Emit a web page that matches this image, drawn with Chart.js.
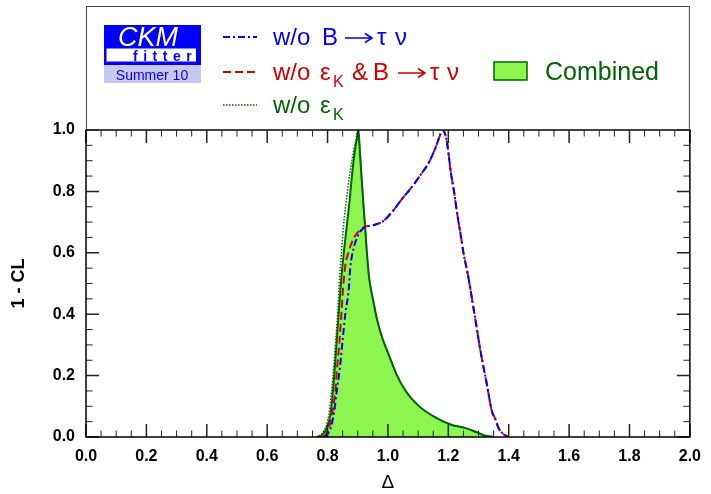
<!DOCTYPE html>
<html>
<head>
<meta charset="utf-8">
<script src="https://cdn.jsdelivr.net/npm/chart.js@4.4.0/dist/chart.umd.min.js"></script>
<style>
html, body { margin: 0; padding: 0; background: #fff; }
#wrap { width: 711px; height: 494px; }
</style>
</head>
<body>
<div id="wrap"><canvas id="ckmChart" width="711" height="494"></canvas></div>
<script>
// values (Delta vs 1 - CL)
var xMajor = [0.0, 0.2, 0.4, 0.6, 0.8, 1.0, 1.2, 1.4, 1.6, 1.8, 2.0];
var yMajor = [0.0, 0.2, 0.4, 0.6, 0.8, 1.0];

var deltaCombined = [0.766, 0.782, 0.799, 0.810, 0.821, 0.829, 0.837, 0.845, 0.856, 0.864, 0.873, 0.881, 0.890, 0.896, 0.902, 0.906, 0.911, 0.918, 0.924, 0.930, 0.937, 0.944, 0.951, 0.960, 0.970, 0.984, 0.998, 1.028, 1.060, 1.100, 1.160, 1.210, 1.257, 1.290, 1.320, 1.350];
var clCombined    = [0.000, 0.007, 0.034, 0.077, 0.186, 0.294, 0.403, 0.510, 0.620, 0.690, 0.770, 0.853, 0.930, 0.965, 1.000, 0.950, 0.870, 0.770, 0.690, 0.605, 0.525, 0.480, 0.446, 0.400, 0.360, 0.315, 0.280, 0.205, 0.148, 0.103, 0.062, 0.040, 0.029, 0.017, 0.005, 0.000];

var deltaNoEpsK = [0.762, 0.780, 0.797, 0.807, 0.818, 0.826, 0.834, 0.839, 0.846, 0.853, 0.862, 0.873, 0.882, 0.892, 0.902, 0.906, 0.911, 0.918, 0.924, 0.930, 0.937, 0.944, 0.951, 0.960, 0.970, 0.984, 0.998, 1.028, 1.060, 1.100, 1.160, 1.210, 1.257, 1.290, 1.320, 1.350];
var clNoEpsK    = [0.000, 0.010, 0.040, 0.090, 0.200, 0.300, 0.410, 0.506, 0.600, 0.690, 0.770, 0.853, 0.908, 0.960, 1.000, 0.950, 0.870, 0.770, 0.690, 0.605, 0.525, 0.480, 0.446, 0.400, 0.360, 0.315, 0.280, 0.205, 0.148, 0.103, 0.062, 0.040, 0.029, 0.017, 0.005, 0.000];

var deltaNoBoth = [0.785, 0.795, 0.804, 0.815, 0.826, 0.831, 0.839, 0.846, 0.851, 0.859, 0.870, 0.886, 0.897, 0.910, 0.924, 0.951, 0.984, 1.017, 1.050, 1.071, 1.104, 1.137, 1.159, 1.173, 1.181, 1.190, 1.197, 1.208, 1.219, 1.230, 1.241, 1.251, 1.263, 1.270, 1.280, 1.290, 1.306, 1.316, 1.328, 1.344, 1.355, 1.366, 1.382, 1.400];
var clNoBoth    = [0.000, 0.010, 0.028, 0.077, 0.153, 0.218, 0.305, 0.403, 0.479, 0.560, 0.604, 0.647, 0.663, 0.676, 0.685, 0.690, 0.703, 0.737, 0.780, 0.804, 0.848, 0.897, 0.946, 0.984, 1.000, 0.985, 0.951, 0.864, 0.799, 0.723, 0.658, 0.595, 0.538, 0.500, 0.440, 0.380, 0.283, 0.230, 0.170, 0.085, 0.060, 0.030, 0.010, 0.000];

var deltaNoBtau = [0.790, 0.800, 0.810, 0.821, 0.831, 0.840, 0.850, 0.859, 0.870, 0.875, 0.886, 0.898, 0.908, 0.924, 0.951, 0.984, 1.017, 1.050, 1.071, 1.104, 1.137, 1.159, 1.173, 1.181, 1.190, 1.197, 1.208, 1.219, 1.230, 1.241, 1.251, 1.263, 1.270, 1.280, 1.290, 1.306, 1.316, 1.328, 1.344, 1.355, 1.366, 1.382, 1.400];
var clNoBtau    = [0.000, 0.010, 0.028, 0.077, 0.153, 0.218, 0.316, 0.403, 0.479, 0.549, 0.614, 0.650, 0.669, 0.683, 0.690, 0.703, 0.737, 0.780, 0.804, 0.848, 0.897, 0.946, 0.984, 1.000, 0.985, 0.951, 0.864, 0.799, 0.723, 0.658, 0.595, 0.538, 0.500, 0.440, 0.380, 0.283, 0.230, 0.170, 0.085, 0.060, 0.030, 0.010, 0.000];

var FONT = '"Liberation Sans", Arial, Helvetica, sans-serif';
var BLUE = '#0000ff', RED = '#d40000', GREEN = '#006400', FILL = 'rgb(140,245,80)';

function pts(xs, ys) {
	var out = [];
	for(var i = 0; i < xs.length; i++) {
		out.push({ x: xs[i], y: ys[i] });
	}
	return out;
}

function txt(ctx, s, x, y, size, color, style) {
	ctx.font = (style || '') + ' ' + size + 'px ' + FONT;
	ctx.fillStyle = color;
	ctx.fillText(s, x, y);
}

// long latex-style arrow, drawn as strokes
function arrow(ctx, x0, x1, y, color) {
	ctx.save();
	ctx.strokeStyle = color;
	ctx.lineWidth = 1.6;
	ctx.beginPath();
	ctx.moveTo(x0, y);
	ctx.lineTo(x1, y);
	ctx.moveTo(x1 - 7, y - 4.5);
	ctx.lineTo(x1, y);
	ctx.lineTo(x1 - 7, y + 4.5);
	ctx.stroke();
	ctx.restore();
}

function sample(ctx, y, color, dash, width) {
	ctx.save();
	ctx.strokeStyle = color;
	ctx.lineWidth = width;
	ctx.setLineDash(dash);
	ctx.beginPath();
	ctx.moveTo(223, y);
	ctx.lineTo(257, y);
	ctx.stroke();
	ctx.restore();
}

var framePlugin = {
	id: 'framePlugin',
	afterDatasetsDraw: function(chart) {
		var ctx = chart.ctx, a = chart.chartArea;
		var x = chart.scales.x, y = chart.scales.y;
		ctx.save();
		ctx.strokeStyle = '#222';
		for(var i = 0; i <= 40; i++) {
			var px = x.getPixelForValue(i * 0.05);
			var len = (i % 4 === 0) ? 13 : 6.5;
			ctx.lineWidth = (i % 4 === 0) ? 1.5 : 1;
			ctx.beginPath();
			ctx.moveTo(px, a.bottom); ctx.lineTo(px, a.bottom - len);
			ctx.moveTo(px, a.top); ctx.lineTo(px, a.top + len);
			ctx.stroke();
		}
		for(var j = 0; j <= 20; j++) {
			var py = y.getPixelForValue(j * 0.05);
			var l = (j % 4 === 0) ? 13 : 6.5;
			ctx.lineWidth = (j % 4 === 0) ? 1.5 : 1;
			ctx.beginPath();
			ctx.moveTo(a.left, py); ctx.lineTo(a.left + l, py);
			ctx.moveTo(a.right, py); ctx.lineTo(a.right - l, py);
			ctx.stroke();
		}
		ctx.lineWidth = 1.5;
		ctx.strokeStyle = '#000';
		ctx.strokeRect(a.left, a.top, a.right - a.left, a.bottom - a.top);
		ctx.restore();
	},
	afterDraw: function(chart) {
		var ctx = chart.ctx, a = chart.chartArea;
		ctx.save();
		// legend frame
		ctx.strokeStyle = '#444';
		ctx.lineWidth = 1;
		ctx.strokeRect(a.left + 0.5, 6.5, a.right - a.left - 1, a.top - 6.5);

		// CKMfitter logo
		ctx.fillStyle = BLUE;
		ctx.fillRect(104, 25, 97, 40);
		ctx.fillStyle = '#fff';
		ctx.fillRect(106.5, 48.5, 89.5, 13);
		ctx.fillStyle = 'rgb(200,200,240)';
		ctx.fillRect(104, 65, 97, 18);
		ctx.textBaseline = 'alphabetic';
		ctx.textAlign = 'left';
		txt(ctx, 'CKM', 118, 46, 27, '#fff', 'italic');
		var letters = 'fitter'.split('');
		var fx = 133;
		ctx.font = 'bold 14px ' + FONT;
		for(var k = 0; k < letters.length; k++) {
			txt(ctx, letters[k], fx, 60.5, 14, BLUE, 'bold');
			fx += ctx.measureText(letters[k]).width + 5.5;
		}
		ctx.textAlign = 'center';
		txt(ctx, 'Summer 10', 152, 80, 14, BLUE, '');
		ctx.textAlign = 'left';

		// legend entries
		sample(ctx, 37, BLUE, [7, 3, 2, 3], 2);
		txt(ctx, 'w/o', 273, 45, 24, BLUE);
		txt(ctx, 'B', 322, 45, 24, BLUE);
		arrow(ctx, 345, 372, 38, BLUE);
		txt(ctx, '\u03c4', 377, 45, 24, BLUE);
		txt(ctx, '\u03bd', 395, 45, 24, BLUE);

		sample(ctx, 72, RED, [8, 4], 2);
		txt(ctx, 'w/o', 273, 80, 24, RED);
		txt(ctx, '\u03b5', 320, 80, 24, RED);
		txt(ctx, 'K', 333, 87, 16, RED);
		txt(ctx, '&', 352, 80, 24, RED);
		txt(ctx, 'B', 373, 80, 24, RED);
		arrow(ctx, 398, 425, 73, RED);
		txt(ctx, '\u03c4', 430, 80, 24, RED);
		txt(ctx, '\u03bd', 447, 80, 24, RED);

		sample(ctx, 105, GREEN, [1.5, 1.5], 1.5);
		txt(ctx, 'w/o', 273, 113, 24, GREEN);
		txt(ctx, '\u03b5', 320, 113, 24, GREEN);
		txt(ctx, 'K', 333, 120, 16, GREEN);

		ctx.fillStyle = FILL;
		ctx.fillRect(494, 62, 33, 18);
		ctx.strokeStyle = GREEN;
		ctx.lineWidth = 1.5;
		ctx.strokeRect(494, 62, 33, 18);
		txt(ctx, 'Combined', 545, 80, 25, GREEN);

		// axis titles
		ctx.textAlign = 'center';
		ctx.textBaseline = 'middle';
		txt(ctx, '\u0394', (a.left + a.right) / 2, 483, 19, '#000');
		ctx.translate(19, (a.top + a.bottom) / 2);
		ctx.rotate(-Math.PI / 2);
		txt(ctx, '1 - CL', 0, 0, 18, '#000', 'bold');
		ctx.restore();
	}
};

var tickFont = { family: FONT, size: 16, weight: 'bold' };

var chart = new Chart(document.getElementById('ckmChart'), {
	type: 'scatter',
	data: {
		datasets: [{
			label: 'w/o B \u2192 \u03c4 \u03bd',
			data: pts(deltaNoBtau, clNoBtau),
			showLine: true,
			borderColor: BLUE,
			borderWidth: 2,
			borderDash: [7, 3, 2, 3],
			pointRadius: 0,
			fill: false,
			cubicInterpolationMode: 'monotone'
		}, {
			label: 'w/o \u03b5K & B \u2192 \u03c4 \u03bd',
			data: pts(deltaNoBoth, clNoBoth),
			showLine: true,
			borderColor: RED,
			borderWidth: 2,
			borderDash: [8, 4],
			pointRadius: 0,
			fill: false,
			cubicInterpolationMode: 'monotone'
		}, {
			label: 'w/o \u03b5K',
			data: pts(deltaNoEpsK, clNoEpsK),
			showLine: true,
			borderColor: '#006600',
			borderWidth: 1.5,
			borderDash: [1.5, 1.5],
			pointRadius: 0,
			fill: false,
			cubicInterpolationMode: 'monotone'
		}, {
			label: 'Combined',
			data: pts(deltaCombined, clCombined),
			showLine: true,
			borderColor: GREEN,
			borderWidth: 2,
			backgroundColor: FILL,
			pointRadius: 0,
			fill: 'origin',
			cubicInterpolationMode: 'monotone'
		}]
	},
	options: {
		responsive: false,
		animation: false,
		devicePixelRatio: 1,
		layout: { padding: { top: 130, right: 14, left: 0, bottom: 0 } },
		plugins: {
			legend: { display: false },
			tooltip: { enabled: false }
		},
		scales: {
			x: {
				type: 'linear',
				min: 0,
				max: 2,
				afterBuildTicks: function(s) { s.ticks = xMajor.map(function(v) { return { value: v }; }); },
				afterFit: function(s) { s.height = 57; },
				grid: { display: false, drawTicks: false },
				border: { display: false },
				ticks: {
					font: tickFont,
					color: '#000',
					padding: 10,
					maxRotation: 0,
					autoSkip: false,
					callback: function(v) { return Number(v).toFixed(1); }
				}
			},
			y: {
				type: 'linear',
				min: 0,
				max: 1,
				afterBuildTicks: function(s) { s.ticks = yMajor.map(function(v) { return { value: v }; }); },
				afterFit: function(s) { s.width = 86; },
				grid: { display: false, drawTicks: false },
				border: { display: false },
				ticks: {
					font: tickFont,
					color: '#000',
					padding: 11,
					autoSkip: false,
					callback: function(v) { return Number(v).toFixed(1); }
				}
			}
		}
	},
	plugins: [framePlugin]
});
</script>
</body>
</html>
